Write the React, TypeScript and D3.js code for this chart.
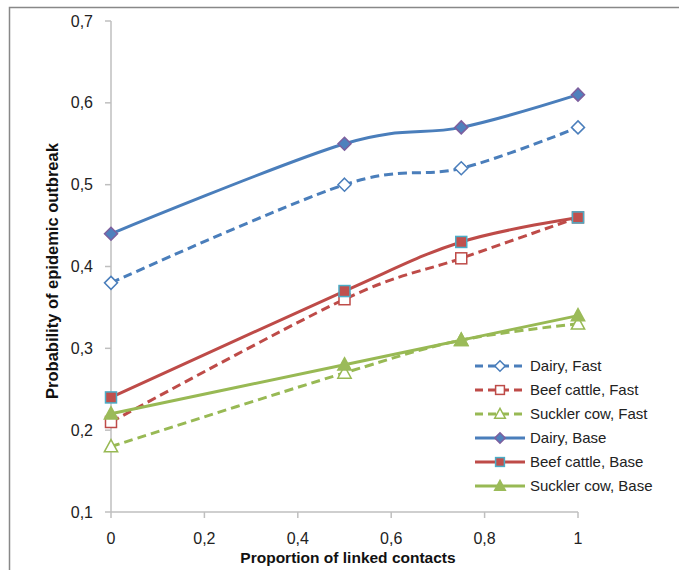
import React from "react";
import * as d3 from "d3";

const xValues = [0, 0.5, 0.75, 1];
const dairyFast = [0.38, 0.5, 0.52, 0.57];
const beefFast = [0.21, 0.36, 0.41, 0.46];
const sucklerFast = [0.18, 0.27, 0.31, 0.33];
const dairyBase = [0.44, 0.55, 0.57, 0.61];
const beefBase = [0.24, 0.37, 0.43, 0.46];
const sucklerBase = [0.22, 0.28, 0.31, 0.34];
const xTicks = [0, 0.2, 0.4, 0.6, 0.8, 1];
const yTicks = [0.1, 0.2, 0.3, 0.4, 0.5, 0.6, 0.7];
const seriesNames = [
  "Dairy, Fast",
  "Beef cattle, Fast",
  "Suckler cow, Fast",
  "Dairy, Base",
  "Beef cattle, Base",
  "Suckler cow, Base",
];

const BLUE = "#4a7ebb";
const RED = "#be4b48";
const GREEN = "#98b954";

type Marker = "diamond" | "square" | "triangle";
interface Series {
  name: string;
  values: number[];
  color: string;
  dashed: boolean;
  marker: Marker;
  fill: string;
  mstroke: string;
}

const series: Series[] = [
  { name: seriesNames[0], values: dairyFast, color: BLUE, dashed: true, marker: "diamond", fill: "#fff", mstroke: BLUE },
  { name: seriesNames[1], values: beefFast, color: RED, dashed: true, marker: "square", fill: "#fff", mstroke: RED },
  { name: seriesNames[2], values: sucklerFast, color: GREEN, dashed: true, marker: "triangle", fill: "#fff", mstroke: GREEN },
  { name: seriesNames[3], values: dairyBase, color: BLUE, dashed: false, marker: "diamond", fill: "#4f81bd", mstroke: "#7d5f9e" },
  { name: seriesNames[4], values: beefBase, color: RED, dashed: false, marker: "square", fill: "#c0504d", mstroke: "#4bacc6" },
  { name: seriesNames[5], values: sucklerBase, color: GREEN, dashed: false, marker: "triangle", fill: "#9bbb59", mstroke: "#9bbb59" },
];

const FONT = "'Liberation Sans', Arial, sans-serif";

function MarkerShape({ type, x, y, fill, stroke, small }: { type: Marker; x: number; y: number; fill: string; stroke: string; small?: boolean }) {
  const s = small ? 0.8 : 1;
  if (type === "diamond") {
    const r = 6.5 * s;
    return <path d={`M${x},${y - r}L${x + r},${y}L${x},${y + r}L${x - r},${y}Z`} fill={fill} stroke={stroke} strokeWidth={1.5} />;
  }
  if (type === "square") {
    const r = 5.5 * s;
    return <rect x={x - r} y={y - r} width={2 * r} height={2 * r} fill={fill} stroke={stroke} strokeWidth={1.5} />;
  }
  const r = 7 * s;
  return <path d={`M${x},${y - r}L${x + r * 0.95},${y + r * 0.75}L${x - r * 0.95},${y + r * 0.75}Z`} fill={fill} stroke={stroke} strokeWidth={1.5} />;
}

export default function App() {
  const x = d3.scaleLinear().domain([0, 1]).range([111, 578]);
  const y = d3.scaleLinear().domain([0.1, 0.7]).range([512, 21]);
  const line = d3
    .line<number>()
    .x((_, i) => x(xValues[i]))
    .y((d) => y(d))
    .curve(d3.curveCardinal.tension(0));

  const legendX = 475;
  const legendY0 = 366;
  const legendStep = 24;

  return (
    <svg width={679} height={570} style={{ position: "absolute", left: 0, top: 0, background: "#fff" }}>
      <rect x={9.5} y={7.5} width={700} height={600} fill="#fff" stroke="#888" strokeWidth={1.5} />
      {/* axes */}
      <line x1={x(0)} x2={x(0)} y1={y(0.7)} y2={y(0.1)} stroke="#bfbfbf" strokeWidth={1.5} />
      <line x1={x(0)} x2={x(1)} y1={y(0.1)} y2={y(0.1)} stroke="#bfbfbf" strokeWidth={1.5} />
      {yTicks.map((t) => (
        <g key={"y" + t}>
          <line x1={x(0) - 6} x2={x(0)} y1={y(t)} y2={y(t)} stroke="#bfbfbf" strokeWidth={1.5} />
          <text x={93} y={y(t) + 5.5} textAnchor="end" fontFamily={FONT} fontSize={16} fill="#222">
            {d3.format(".1f")(t).replace(".", ",")}
          </text>
        </g>
      ))}
      {xTicks.map((t) => (
        <g key={"x" + t}>
          <line x1={x(t)} x2={x(t)} y1={y(0.1)} y2={y(0.1) + 6} stroke="#bfbfbf" strokeWidth={1.5} />
          <text x={x(t)} y={544} textAnchor="middle" fontFamily={FONT} fontSize={16} fill="#222">
            {t === 0 || t === 1 ? String(t) : d3.format(".1f")(t).replace(".", ",")}
          </text>
        </g>
      ))}
      <text x={348} y={563} textAnchor="middle" fontFamily={FONT} fontSize={15.5} fontWeight="bold" fill="#111">
        Proportion of linked contacts
      </text>
      <text
        transform={`translate(58,${271}) rotate(-90)`}
        textAnchor="middle"
        fontFamily={FONT}
        fontSize={16.5}
        fontWeight="bold"
        fill="#111"
      >
        Probability of epidemic outbreak
      </text>
      {/* series */}
      {series.map((s) => (
        <g key={s.name}>
          <path
            d={line(s.values) || ""}
            fill="none"
            stroke={s.color}
            strokeWidth={3}
            strokeDasharray={s.dashed ? "9,5" : undefined}
          />
          {s.values.map((v, i) => (
            <MarkerShape key={i} type={s.marker} x={x(xValues[i])} y={y(v)} fill={s.fill} stroke={s.mstroke} />
          ))}
        </g>
      ))}
      {/* legend */}
      {series.map((s, i) => {
        const ly = legendY0 + i * legendStep;
        return (
          <g key={"lg" + s.name}>
            <line
              x1={legendX}
              x2={legendX + 50}
              y1={ly}
              y2={ly}
              stroke={s.color}
              strokeWidth={3}
              strokeDasharray={s.dashed ? "8,5" : undefined}
            />
            <MarkerShape type={s.marker} x={legendX + 25} y={ly} fill={s.fill} stroke={s.mstroke} small />
            <text x={legendX + 55} y={ly + 5} fontFamily={FONT} fontSize={15} fill="#222">
              {s.name}
            </text>
          </g>
        );
      })}
    </svg>
  );
}
